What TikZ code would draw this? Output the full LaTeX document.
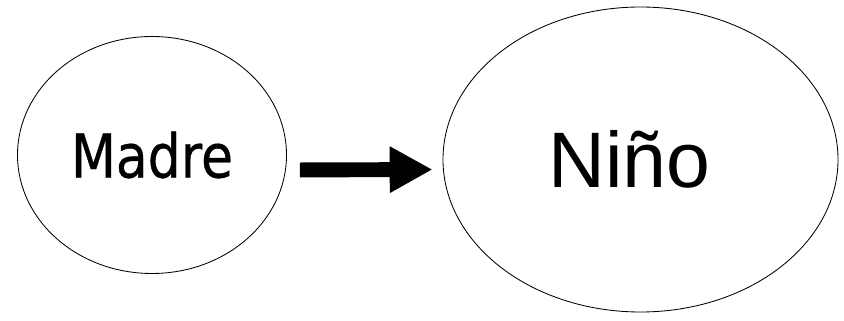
\documentclass[tikz,border=0pt]{standalone}
\usepackage{fontspec}
\usepackage{tikz}
\usetikzlibrary{arrows.meta,shapes.geometric}
\newfontfamily\madrefont[FakeStretch=0.86,FakeBold=0.6]{DejaVu Sans}
\newfontfamily\ninofont{Liberation Sans}

\begin{document}
\begin{tikzpicture}
\tikzstyle{blob}=[ellipse, draw, line width=0.6pt, inner sep=0pt]
\useasboundingbox (0,0) rectangle (21.1,8.025);
\node[blob, minimum width=6.725cm, minimum height=5.925cm, font=\madrefont\fontsize{43}{43}\selectfont] (madre) at (3.8,4.15) {Madre};
\node[blob, minimum width=9.875cm, minimum height=7.625cm, font=\ninofont\fontsize{56}{56}\selectfont] (nino) at (16.0125,4.0375) {\hspace*{-0.55cm}Niño};

\draw[line width=10.6pt, -{Triangle[length=30.5pt, width=31pt]}, shorten <=0.325cm, shorten >=0.25cm]
  ([yshift=-0.375cm]madre.east) -- ([yshift=-0.25cm]nino.west);
\end{tikzpicture}
\end{document}
